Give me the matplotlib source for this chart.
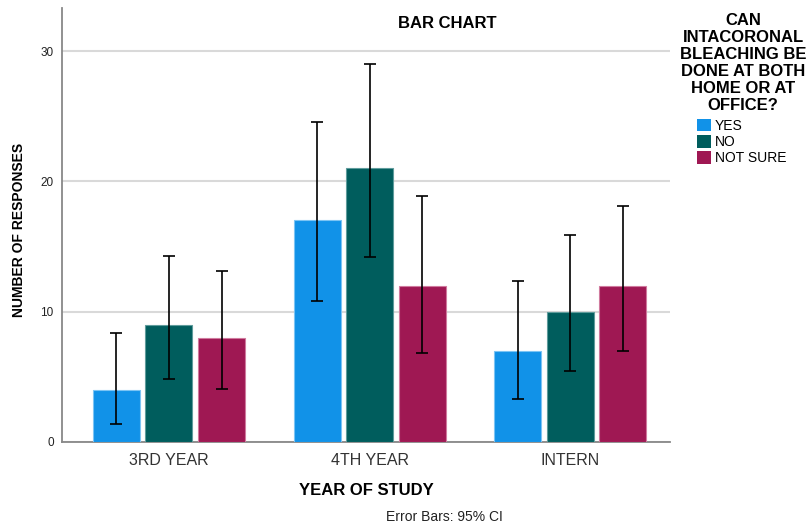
import matplotlib
matplotlib.use("Agg")
import matplotlib.pyplot as plt
import numpy as np
from matplotlib.patches import Patch

plt.rcParams['font.family'] = ['Liberation Sans', 'DejaVu Sans']

categories = ["3RD YEAR", "4TH YEAR", "INTERN"]
series_names = ["YES", "NO", "NOT SURE"]
values = {
    "YES": [4, 17, 7],
    "NO": [9, 21, 10],
    "NOT SURE": [8, 12, 12],
}
ci_low = {
    "YES": [1.4, 10.8, 3.3],
    "NO": [4.8, 14.2, 5.45],
    "NOT SURE": [4.05, 6.85, 7.0],
}
ci_high = {
    "YES": [8.4, 24.55, 12.35],
    "NO": [14.27, 29.0, 15.85],
    "NOT SURE": [13.1, 18.85, 18.1],
}
colors = ["#1192e8", "#005d5d", "#9f1853"]
edge_colors = ["#7cc4f4", "#5f9c9c", "#d07a9e"]
yticks = [0, 10, 20, 30]
legend_title = "CAN\nINTACORONAL\nBLEACHING BE\nDONE AT BOTH\nHOME OR AT\nOFFICE?"

fig = plt.figure(figsize=(8.08, 5.29), dpi=100)
ax = fig.add_axes([62/808, 1-442/529, (670-62)/808, (442-8)/529])

x = np.arange(len(categories))
step = 0.262
width = 0.234
for i, name in enumerate(series_names):
    vals = np.array(values[name], dtype=float)
    lo = vals - np.array(ci_low[name])
    hi = np.array(ci_high[name]) - vals
    pos = x + (i - 1) * step
    ax.bar(pos, vals, width=width, color=colors[i], edgecolor=edge_colors[i],
           linewidth=0.8, zorder=3)
    ax.errorbar(pos, vals, yerr=[lo, hi], fmt='none', ecolor='black',
                elinewidth=1.2, capsize=4.5, capthick=1.2, zorder=4)

ax.set_xlim(-0.533, 2.497)
ax.set_ylim(0, 33.3)
ax.set_yticks(yticks)
ax.set_yticklabels([str(t) for t in yticks], fontsize=8.5, color='#222222')
ax.set_xticks(x)
ax.set_xticklabels(categories, fontsize=11.5, color='#333333')
ax.tick_params(axis='both', length=0)
ax.tick_params(axis='x', pad=8)
ax.tick_params(axis='y', pad=6)
ax.yaxis.grid(True, color='#d9d9d9', linewidth=1.5, zorder=0)
ax.set_axisbelow(True)
for s in ['top', 'right']:
    ax.spines[s].set_visible(False)
for s in ['left', 'bottom']:
    ax.spines[s].set_color('#888888')
    ax.spines[s].set_linewidth(1.3)

ax.set_xlabel("YEAR OF STUDY", fontsize=12, fontweight='bold', labelpad=11)
ax.set_ylabel("NUMBER OF RESPONSES", fontsize=10, fontweight='bold')
ax.yaxis.set_label_coords(-(62-26)/608, (442-230)/434)

fig.text(447/808, 1-24/529, "BAR CHART", ha='center', va='center',
         fontsize=12, fontweight='bold')

fig.text(743/808, 1-13/529, legend_title, ha='center', va='top',
         fontsize=12, fontweight='bold', linespacing=1.16, multialignment='center')

handles = [Patch(facecolor=c, edgecolor='none') for c in colors]
leg = fig.legend(handles, series_names, loc='upper left',
                 bbox_to_anchor=(697/808, 1-119/529),
                 frameon=False, fontsize=10, handlelength=1.0, handleheight=1.0,
                 handletextpad=0.3, labelspacing=0.16,
                 borderpad=0, borderaxespad=0)

fig.text(444/808, 1-517/529, "Error Bars: 95% CI", ha='center', va='center',
         fontsize=10, color='#222222')

fig.savefig("out.png", dpi=100)
